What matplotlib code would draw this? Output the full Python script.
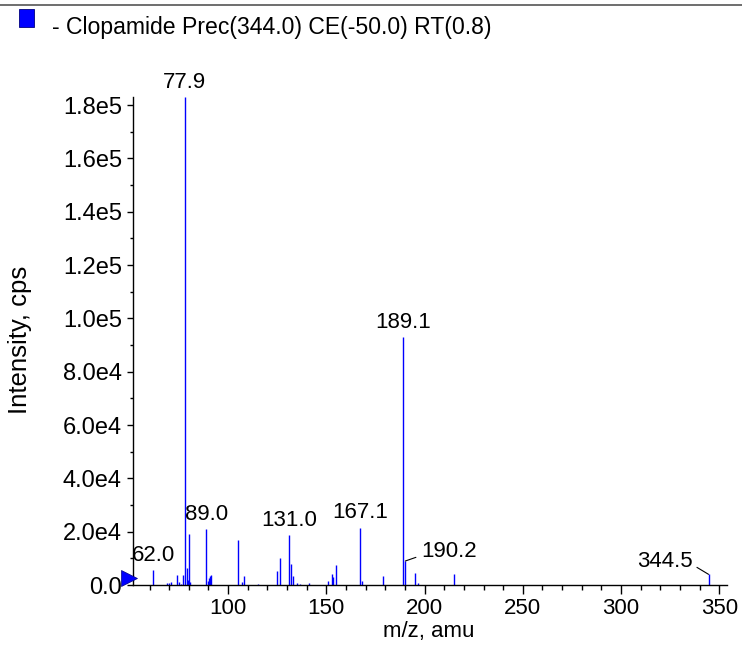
import matplotlib
matplotlib.use("Agg")
import matplotlib.pyplot as plt
from matplotlib.lines import Line2D
from matplotlib.patches import Rectangle
from matplotlib.ticker import MultipleLocator, FuncFormatter

plt.rcParams['font.family'] = ['Liberation Sans', 'DejaVu Sans']

# peak list (m/z, intensity in cps)
mz = [62.0, 69.0, 69.8, 70.9, 74.1, 74.9, 76.1, 76.9, 77.9, 78.9, 79.4, 79.9, 80.5,
      89.0, 89.9, 90.4, 90.7, 91.1, 105.0, 107.3, 108.0, 115.1, 125.0, 126.4,
      131.0, 131.9, 132.9, 135.2, 136.8, 141.1, 150.7, 152.7, 153.4, 154.9,
      167.1, 168.0, 178.9, 189.1, 190.2, 195.2, 196.7, 214.8, 344.5]
intensity = [5600, 600, 800, 1000, 3900, 1200, 500, 3600, 183000, 6400, 2000, 19000, 1000,
             21000, 1500, 2500, 3500, 3700, 16900, 1200, 3400, 400, 5100, 10100,
             18700, 7900, 3400, 800, 300, 700, 1500, 4000, 2900, 7500,
             21500, 1500, 3400, 92900, 9000, 4600, 700, 4000, 4000]

# labelled peaks
label_mz = [62.0, 77.9, 89.0, 131.0, 167.1, 189.1, 190.2, 344.5]

title = "- Clopamide Prec(344.0) CE(-50.0) RT(0.8)"
x_major = [100, 150, 200, 250, 300, 350]

BLUE = '#0000ff'


def ytick_fmt(v, pos):
    if v == 0:
        return "0.0"
    mant, exp = f"{v:.1e}".split("e")
    return f"{mant}e{int(exp)}"


fig = plt.figure(figsize=(7.42, 6.47), dpi=100)
ax = fig.add_axes([133 / 742, 1 - 585 / 647, (727 - 133) / 742, (585 - 97) / 647])

ax.vlines(mz, 0, intensity, color=BLUE, linewidth=1.0)

ax.set_xlim(51.6, 353.9)
ax.set_ylim(0, 183000)

for s in ['top', 'right']:
    ax.spines[s].set_visible(False)
for s in ['left', 'bottom']:
    ax.spines[s].set_linewidth(1.0)

ax.set_xticks(x_major)
ax.xaxis.set_minor_locator(MultipleLocator(10))
ax.yaxis.set_major_locator(MultipleLocator(20000))
ax.yaxis.set_minor_locator(MultipleLocator(10000))
ax.yaxis.set_major_formatter(FuncFormatter(ytick_fmt))
ax.tick_params(axis='x', which='major', length=6.2, width=1, labelsize=16, pad=3)
ax.tick_params(axis='x', which='minor', length=3.8, width=1)
ax.tick_params(axis='y', which='major', length=4, width=1, labelsize=17, pad=4)
ax.tick_params(axis='y', which='minor', length=2.5, width=1)

ax.set_xlabel("m/z, amu", fontsize=16, va='center')
ax.xaxis.set_label_coords(0.497, -0.096)
ax.set_ylabel("Intensity, cps", fontsize=18.5, va='center')
ax.yaxis.set_label_coords(-0.19, 0.502)

# peak labels
for m in label_mz:
    h = intensity[mz.index(m)]
    txt = f"{m:.1f}"
    if m == 190.2:
        ax.annotate(txt, (m, h), xytext=(11.5, 7), textcoords='offset points',
                    ha='left', va='center', fontsize=16,
                    arrowprops=dict(arrowstyle='-', color='black', lw=0.8,
                                    relpos=(0, 0.3), shrinkA=2, shrinkB=0))
    elif m == 344.5:
        ax.annotate(txt, (m, h), xytext=(-11.2, 9), textcoords='offset points',
                    ha='right', va='center', fontsize=16,
                    arrowprops=dict(arrowstyle='-', color='black', lw=0.8,
                                    relpos=(1, 0.35), shrinkA=1, shrinkB=0))
    else:
        ax.annotate(txt, (m, h), xytext=(0, 3), textcoords='offset points',
                    ha='center', va='bottom', fontsize=16)

# blue marker on the y axis at zero
ax.plot([49.6], [2500], marker='>', color=BLUE, markersize=11, clip_on=False,
        markeredgecolor='#000080', markeredgewidth=0.5, zorder=5)

# header: top rule, legend swatch and title
fig.add_artist(Line2D([0, 1], [1 - 5 / 647, 1 - 5 / 647], color='#555555', lw=1.2))
fig.add_artist(Rectangle((19 / 742, 1 - 27 / 647), 15 / 742, 18 / 647,
                         facecolor=BLUE, edgecolor='#000080', lw=0.6))
fig.text(52 / 742, 1 - 34 / 647, title, fontsize=16.6, va='baseline', ha='left')

fig.savefig("out.png", dpi=100)
